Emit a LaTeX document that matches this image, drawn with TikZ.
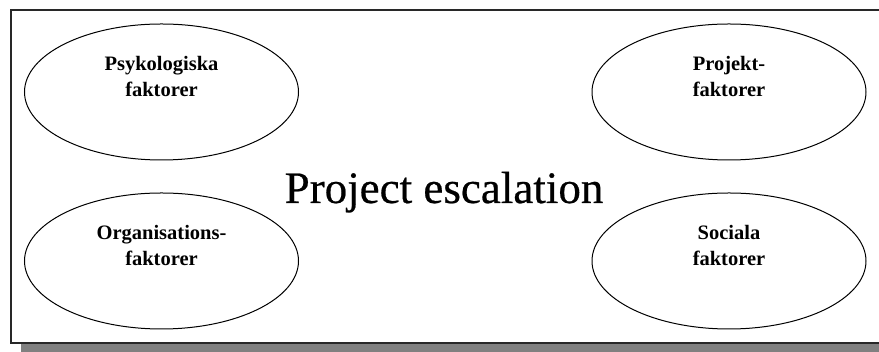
\documentclass[tikz,border=0pt]{standalone}
\usepackage{fontspec}
\setmainfont{Liberation Serif}
\newfontfamily\titlefont[FakeBold=0.5]{Liberation Serif}
\usetikzlibrary{shapes.geometric}
\definecolor{shadowgray}{RGB}{128,128,128}
\definecolor{framegray}{RGB}{40,40,40}
\begin{document}
\begin{tikzpicture}[x=1pt,y=1pt,
  factor/.style={ellipse,draw=black,line width=1pt,minimum width=274pt,minimum height=136pt,inner sep=0pt},
  factortext/.style={anchor=base,align=center,inner sep=0pt,
    font=\bfseries\fontsize{20.5}{26}\selectfont},
  title/.style={anchor=base,inner sep=0pt,font=\titlefont\fontsize{45}{54}\selectfont}]
  \useasboundingbox (0,0) rectangle (879,352);
  \clip (0,0) rectangle (879,352);
  % drop shadow and frame
  \fill[shadowgray] (21,-20) rectangle (900,332);
  \draw[framegray,fill=white,line width=2pt] (11,341.5) rectangle (895,8.5);
  % the four factor ellipses
  \node[factor] (psy) at (161.5,260) {};
  \node[factor] (proj) at (729,260) {};
  \node[factor] (org) at (161.5,91) {};
  \node[factor] (soc) at (729,91) {};
  \node[factortext] (psyt) at ([yshift=-4.5pt]psy.center) {Psykologiska\\faktorer};
  \node[factortext] (projt) at ([yshift=-4.5pt]proj.center) {Projekt-\\faktorer};
  \node[factortext] (orgt) at ([yshift=-4.5pt]org.center) {Organisations-\\faktorer};
  \node[factortext] (soct) at ([yshift=-4.5pt]soc.center) {Sociala\\faktorer};
  % central title
  \node[title] (esc) at (444,149) {Project escalation};
\end{tikzpicture}
\end{document}
